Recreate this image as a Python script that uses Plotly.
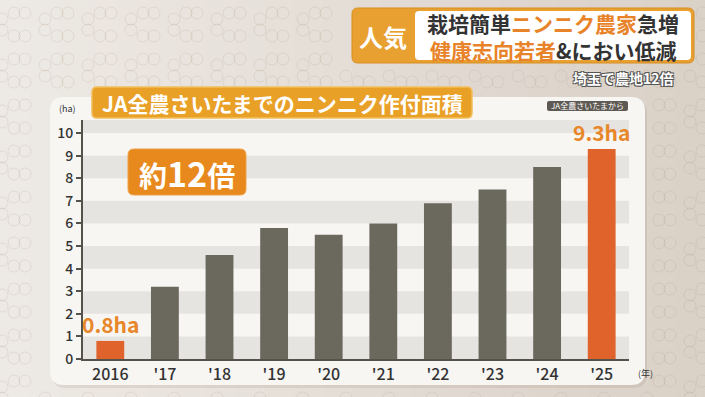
import plotly.graph_objects as go

# ---------------- data ----------------
years = ["2016", "'17", "'18", "'19", "'20", "'21", "'22", "'23", "'24", "'25"]
area_ha = [0.8, 3.2, 4.6, 5.8, 5.5, 6.0, 6.9, 7.5, 8.5, 9.3]
highlight = [0, 9]
y_ticks = list(range(0, 11))

title_text = "JA全農さいたまでのニンニク作付面積"
badge_text = "約12倍"
source_text = "JA全農さいたまから"
header_tag = "人気"
sub_caption = "埼玉で農地12倍"

# ---------------- style / geometry ----------------
W, H = 705, 397
L, R, T, B = 83, 629, 120, 359
PW, PH = R - L, B - T
YMAX = 10.58

ORANGE_BAR = "#E1632C"
GRAY_BAR = "#6B685E"
LABEL_ORANGE = "#E8862A"
FONT = "Noto Sans CJK JP"


def fx(px):
    return (px - L) / PW


def fy(py):
    return (B - py) / PH


def rrect(x0, y0, x1, y1, r):
    def p(x, y):
        return f"{fx(x):.5f},{fy(y):.5f}"
    s = f"M {p(x0 + r, y0)} L {p(x1 - r, y0)} Q {p(x1, y0)} {p(x1, y0 + r)} "
    s += f"L {p(x1, y1 - r)} Q {p(x1, y1)} {p(x1 - r, y1)} "
    s += f"L {p(x0 + r, y1)} Q {p(x0, y1)} {p(x0, y1 - r)} "
    s += f"L {p(x0, y0 + r)} Q {p(x0, y0)} {p(x0 + r, y0)} Z"
    return s


shapes = []

# background horizontal tint strips (light left -> darker right)
n_strips = 24
c0 = (237, 233, 228)
c1 = (218, 209, 199)
for i in range(n_strips):
    t = i / (n_strips - 1)
    col = tuple(round(c0[k] + (c1[k] - c0[k]) * t) for k in range(3))
    shapes.append(dict(type="rect", xref="paper", yref="paper", layer="below",
                       x0=fx(W * i / n_strips), x1=fx(W * (i + 1) / n_strips + 1),
                       y0=fy(H), y1=fy(0), line=dict(width=0),
                       fillcolor=f"rgb{col}"))

# faint circle pattern outside the card
card = (50, 97, 645, 385)
rc = 6
def add_circle(cx, cy):
    if card[0] - 8 < cx < card[2] + 8 and card[1] - 8 < cy < card[3] + 8:
        return
    if 345 < cx < 700 and 0 < cy < 70:
        return
    shapes.append(dict(type="circle", xref="paper", yref="paper", layer="below",
                       x0=fx(cx - rc), x1=fx(cx + rc), y0=fy(cy + rc), y1=fy(cy - rc),
                       line=dict(color="rgba(160,140,120,0.17)", width=1)))

for j in range(-1, 19):
    for i in range(-1, 18):
        bx = 14 + 43 * i
        by = 13 + 23 * j
        add_circle(bx, by)
        add_circle(bx + 11, by)
        if j % 2 == 0:
            add_circle(bx + 31, by + 6)
            add_circle(bx + 31, by + 17)

# card
shapes.append(dict(type="path", xref="paper", yref="paper", layer="below",
                   path=rrect(card[0] + 2, card[1] + 3, card[2] + 2, card[3] + 3, 14),
                   fillcolor="rgba(120,100,80,0.12)", line=dict(width=0)))
shapes.append(dict(type="path", xref="paper", yref="paper", layer="below",
                   path=rrect(*card, 14), fillcolor="#F7F6F3", line=dict(width=0)))

# alternating bands
for lo in range(0, 11, 2):
    shapes.append(dict(type="rect", xref="paper", yref="y", layer="below",
                       x0=0, x1=1, y0=lo, y1=min(lo + 1, YMAX),
                       fillcolor="#E6E4E0", line=dict(width=0)))

# title banner
shapes.append(dict(type="path", xref="paper", yref="paper",
                   path=rrect(92, 87, 472, 118, 5), fillcolor="#E9A027",
                   line=dict(color="#F2BE5C", width=1.5)))
# badge
shapes.append(dict(type="path", xref="paper", yref="paper",
                   path=rrect(128, 149, 246, 195, 6), fillcolor="#E8891E",
                   line=dict(color="#EFA04A", width=1)))
# source tag
shapes.append(dict(type="path", xref="paper", yref="paper",
                   path=rrect(547, 101, 628, 111, 2), fillcolor="#5E5A53",
                   line=dict(width=0)))
# header boxes
shapes.append(dict(type="path", xref="paper", yref="paper",
                   path=rrect(352, 8, 694, 63, 6), fillcolor="#E8A030",
                   line=dict(color="#D88E22", width=1)))
shapes.append(dict(type="path", xref="paper", yref="paper",
                   path=rrect(415, 11, 691, 60, 4), fillcolor="#FFFFFF",
                   line=dict(width=0)))

bar_colors = [ORANGE_BAR if i in highlight else GRAY_BAR for i in range(len(years))]

fig = go.Figure(go.Bar(x=years, y=area_ha, marker=dict(color=bar_colors, line=dict(width=0)),
                       width=0.51, hoverinfo="skip"))

annotations = []
for i in highlight:
    annotations.append(dict(x=i, y=area_ha[i], xref="x", yref="y",
                            text=f"<b>{area_ha[i]}ha</b>", showarrow=False,
                            yanchor="bottom", yshift=0,
                            font=dict(family=FONT, size=21, color=LABEL_ORANGE)))

def pa(px, py, text, size, color, xanchor="center", yanchor="middle", **kw):
    annotations.append(dict(x=fx(px), y=fy(py), xref="paper", yref="paper", text=text,
                            showarrow=False, xanchor=xanchor, yanchor=yanchor,
                            font=dict(family=FONT, size=size, color=color, **kw)))

pa(282, 103, f"<b>{title_text}</b>", 21, "#FFFFFF")
pa(187, 172, f"<b>約<span style='font-size:34px'>12</span>倍</b>", 28, "#FFFFFF")
pa(587.5, 106, source_text, 8, "#FFFFFF")
pa(383, 36, f"<b>{header_tag}</b>", 24, "#FFFFFF")
pa(553, 23, "<b>栽培簡単<span style='color:#E8832A'>ニンニク農家</span>急増</b>", 21, "#333333")
pa(553, 50, "<b><span style='color:#E8832A'>健康志向若者</span>&amp;におい低減</b>", 21, "#333333")
pa(623, 78, f"<b>{sub_caption}</b>", 14, "#FFFFFF",
   shadow="-1px -1px 0 #555, 1px -1px 0 #555, -1px 1px 0 #555, 1px 1px 0 #555")
pa(67, 117, "(ha)", 9, "#333333", yanchor="bottom")
pa(645, 373, "(年)", 9, "#333333")

fig.update_layout(
    width=W, height=H,
    margin=dict(l=L, r=W - R, t=T, b=H - B, pad=0),
    paper_bgcolor="#E5DFD8", plot_bgcolor="rgba(0,0,0,0)",
    shapes=shapes, annotations=annotations, showlegend=False,
    bargap=0.49,
    xaxis=dict(type="category", range=[-0.5, len(years) - 0.5], showline=True,
               linecolor="#55524C", linewidth=2, ticks="", showgrid=False,
               tickfont=dict(family=FONT, size=16, color="#333333", weight=500),
               fixedrange=True),
    yaxis=dict(range=[0, YMAX], tickvals=y_ticks, showgrid=False, zeroline=False,
               showline=True, linecolor="#55524C", linewidth=2, ticks="outside",
               ticklen=5, tickwidth=1.5, tickcolor="#55524C",
               tickfont=dict(family=FONT, size=14, color="#333333", weight=500),
               fixedrange=True),
)

fig.write_html("out.html", config={"displayModeBar": False},
               post_script="document.body.style.margin='0';document.body.style.overflow='hidden';")
